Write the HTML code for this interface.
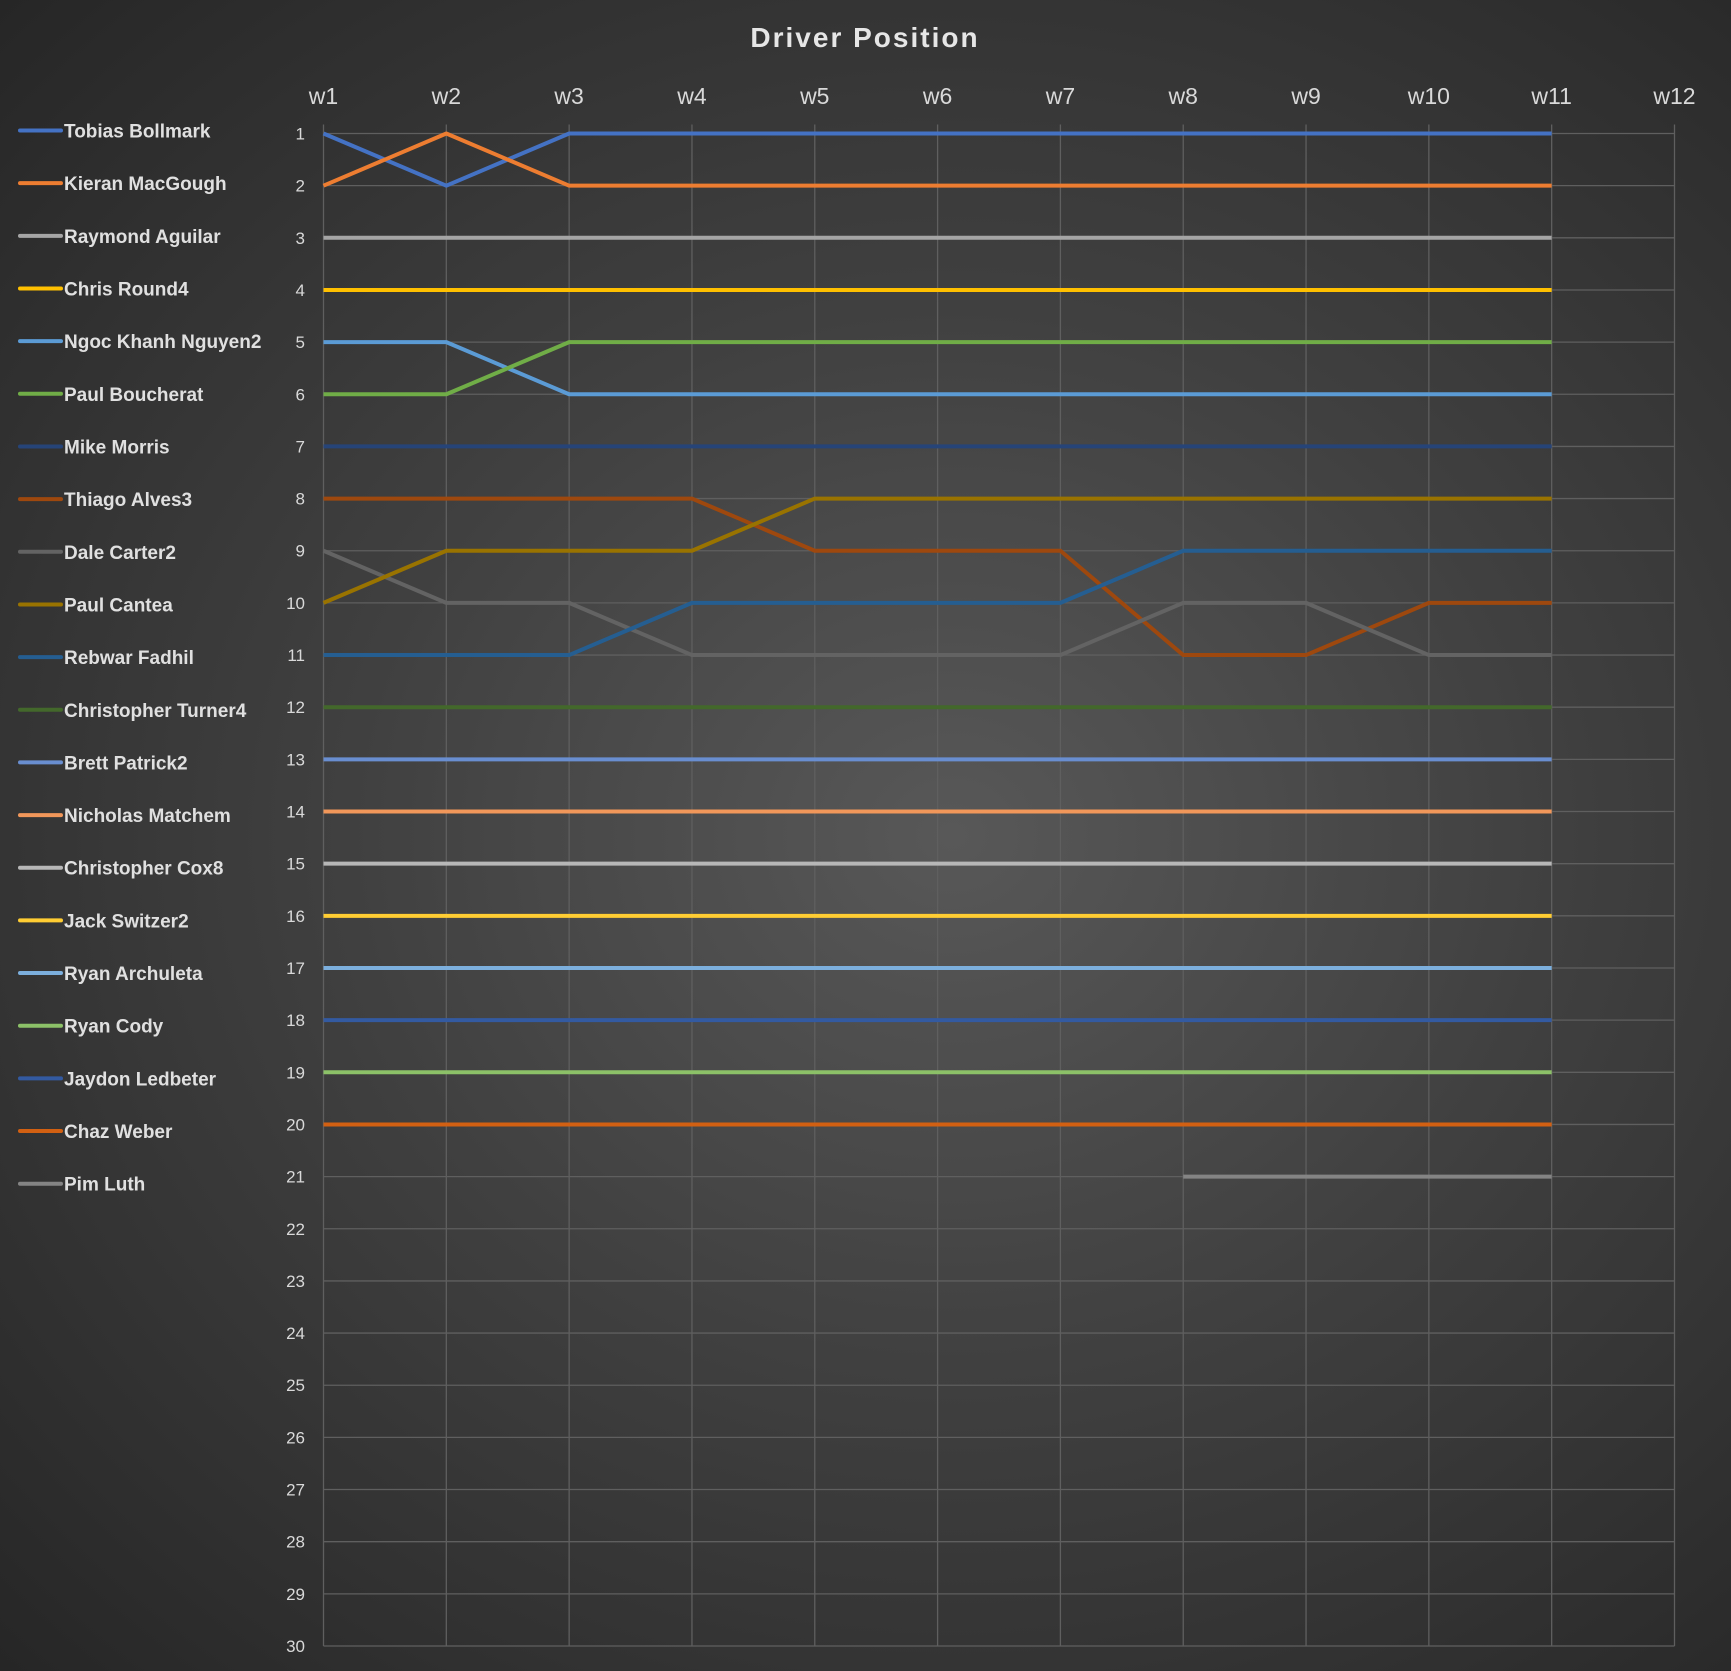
<!DOCTYPE html>
<html><head><meta charset="utf-8"><style>
html,body{margin:0;padding:0;}
body{width:1731px;height:1671px;overflow:hidden;background:radial-gradient(ellipse at 55% 50%,#585858 0%,#404040 45%,#262626 100%);font-family:"Liberation Sans",sans-serif;}
svg{position:absolute;left:0;top:0;}
</style></head><body>
<svg id="chart" width="1731" height="1671">
<text x="865" y="47" text-anchor="middle" fill="#e6e6e6" font-size="28" font-weight="bold" letter-spacing="2">Driver Position</text>
<g id="grid"></g><g id="axes"></g><g id="series"></g><g id="legend"></g>
</svg>
<script>
const weeks=["w1","w2","w3","w4","w5","w6","w7","w8","w9","w10","w11","w12"];
const positions=[1,2,3,4,5,6,7,8,9,10,11,12,13,14,15,16,17,18,19,20,21,22,23,24,25,26,27,28,29,30];
const names=["Tobias Bollmark","Kieran MacGough","Raymond Aguilar","Chris Round4","Ngoc Khanh Nguyen2","Paul Boucherat","Mike Morris","Thiago Alves3","Dale Carter2","Paul Cantea","Rebwar Fadhil","Christopher Turner4","Brett Patrick2","Nicholas Matchem","Christopher Cox8","Jack Switzer2","Ryan Archuleta","Ryan Cody","Jaydon Ledbeter","Chaz Weber","Pim Luth"];
const colors=["#4472C4","#ED7D31","#A5A5A5","#FFC000","#5B9BD5","#70AD47","#264478","#9E480E","#636363","#997300","#255E91","#43682B","#698ED0","#F1975A","#B7B7B7","#FFCD33","#7CAFDD","#8CC168","#335AA1","#D26012","#848484"];
const s01=[1,2,1,1,1,1,1,1,1,1,1];
const s02=[2,1,2,2,2,2,2,2,2,2,2];
const s03=[3,3,3,3,3,3,3,3,3,3,3];
const s04=[4,4,4,4,4,4,4,4,4,4,4];
const s05=[5,5,6,6,6,6,6,6,6,6,6];
const s06=[6,6,5,5,5,5,5,5,5,5,5];
const s07=[7,7,7,7,7,7,7,7,7,7,7];
const s08=[8,8,8,8,9,9,9,11,11,10,10];
const s09=[9,10,10,11,11,11,11,10,10,11,11];
const s10=[10,9,9,9,8,8,8,8,8,8,8];
const s11=[11,11,11,10,10,10,10,9,9,9,9];
const s12=[12,12,12,12,12,12,12,12,12,12,12];
const s13=[13,13,13,13,13,13,13,13,13,13,13];
const s14=[14,14,14,14,14,14,14,14,14,14,14];
const s15=[15,15,15,15,15,15,15,15,15,15,15];
const s16=[16,16,16,16,16,16,16,16,16,16,16];
const s17=[17,17,17,17,17,17,17,17,17,17,17];
const s18=[19,19,19,19,19,19,19,19,19,19,19];
const s19=[18,18,18,18,18,18,18,18,18,18,18];
const s20=[20,20,20,20,20,20,20,20,20,20,20];
const s21=[null,null,null,null,null,null,null,21,21,21,21];
const series=[s01,s02,s03,s04,s05,s06,s07,s08,s09,s10,s11,s12,s13,s14,s15,s16,s17,s18,s19,s20,s21];
const NS="http://www.w3.org/2000/svg";
const X0=323.5,X1=1674.5,Y0=133.5,Y1=1646;
function xs(i){return X0+i*(X1-X0)/(weeks.length-1);}
function ys(v){return Y0+(v-1)*(Y1-Y0)/(positions.length-1);}
function mk(tag,attrs,parent){const e=document.createElementNS(NS,tag);for(const k in attrs)e.setAttribute(k,attrs[k]);parent.appendChild(e);return e;}
const grid=document.getElementById('grid'),axes=document.getElementById('axes'),ser=document.getElementById('series'),leg=document.getElementById('legend');
positions.forEach(p=>{const l=mk('line',{x1:X0,x2:X1,y1:ys(p),y2:ys(p),stroke:'#5f5f5f','stroke-width':1.3},grid);


const t=mk('text',{x:305,y:ys(p)+6,'text-anchor':'end',fill:'#d9d9d9','font-size':17},axes);t.textContent=p;

});
weeks.forEach((w,i)=>{const l=mk('line',{x1:xs(i),x2:xs(i),y1:Y0-9,y2:Y1,stroke:'#5f5f5f','stroke-width':1.3},grid);


const t=mk('text',{x:xs(i),y:104,'text-anchor':'middle',fill:'#d9d9d9','font-size':23},axes);t.textContent=w;

});
series.forEach((s,k)=>{let d='';let pen=false;s.forEach((v,i)=>{if(v==null){pen=false;return;}d+=(pen?'L':'M')+xs(i)+' '+ys(v)+' ';pen=true;});
const p=mk('path',{d:d,fill:'none',stroke:colors[k],'stroke-width':4,'stroke-linejoin':'round'},ser);


const gy=130.5+k*52.66;
const g=mk('g',{},leg);


mk('line',{x1:20,x2:61,y1:gy,y2:gy,stroke:colors[k],'stroke-width':4,'stroke-linecap':'round'},g);
const t=mk('text',{x:64,y:gy+7,fill:'#e0e0e0','font-size':19,'font-weight':'bold'},g);t.textContent=names[k];});
</script>
</body></html>
